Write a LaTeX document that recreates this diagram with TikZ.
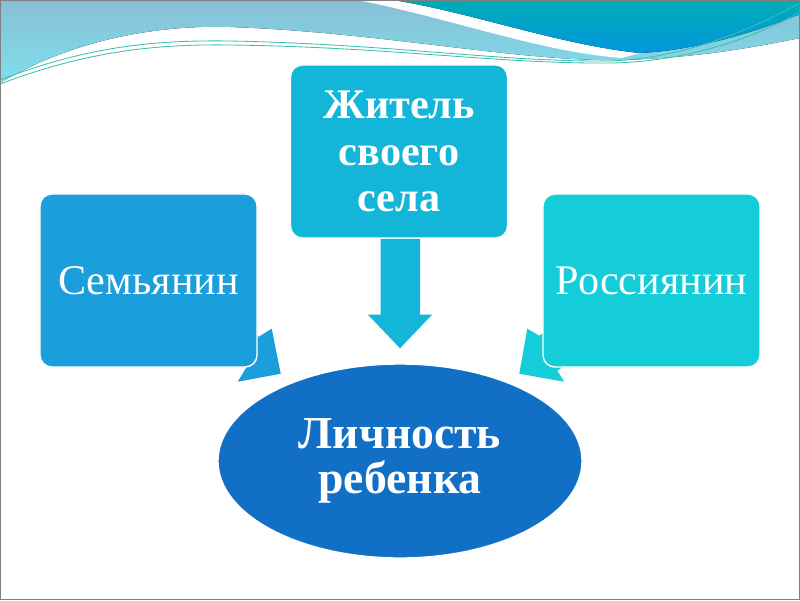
\documentclass[tikz,border=0pt]{standalone}
\usepackage{fontspec}
\setmainfont{Liberation Serif}
\usetikzlibrary{backgrounds,calc,shapes.geometric}
\definecolor{familyfill}{HTML}{1B9FDC}
\definecolor{villagefill}{HTML}{13B5D9}
\definecolor{russiafill}{HTML}{14CDD8}
\definecolor{childfill}{HTML}{1170C6}
\definecolor{sweeptop}{HTML}{88BED6}
\definecolor{sweepbottom}{HTML}{7EE0EC}
\definecolor{wavetop}{HTML}{00ACB6}
\definecolor{wavebottom}{HTML}{0097DD}
\definecolor{threaddraw}{HTML}{3CBFAE}
\definecolor{framedraw}{HTML}{808080}

\begin{document}
\begin{tikzpicture}[
  x=0.025cm, y=-0.025cm,
  role/.style={
    draw=white, line width=1pt, rounded corners=8.5pt,
    minimum width=5.425cm, minimum height=4.325cm,
    align=center, text=white, inner sep=2pt,
    font=\fontsize{30}{33}\selectfont
  },
  roleBold/.style={role, font=\fontsize{30}{33}\selectfont\bfseries},
  core/.style={
    ellipse, draw=white, line width=1pt, fill=childfill,
    minimum width=9.1cm, minimum height=4.85cm, inner sep=0pt,
    align=center, text=white, font=\fontsize{32.5}{32}\selectfont\bfseries
  },
  thread/.style={draw=threaddraw, line width=0.6pt}
]
\useasboundingbox (0,0) rectangle (800,600);

% Slide background with the waves on top.
\begin{scope}[on background layer]
  \fill[white] (0,0) rectangle (800,600);
  \fill[top color=sweeptop, bottom color=sweepbottom]
    (0,0) -- (800,0) -- (800,38)
    .. controls (760,46) and (700,58) .. (620,60)
    .. controls (520,62) and (380,32) .. (230,27)
    .. controls (170,25) and (80,35) .. (0,83) -- cycle;
  \fill[white]
    (357,0) .. controls (450,18) and (540,52) .. (622,58)
    -- (640,53) .. controls (560,45) and (470,12) .. (393,0) -- cycle;
  \fill[top color=wavetop, bottom color=wavebottom]
    (393,0) .. controls (470,12) and (560,45) .. (640,53)
    .. controls (700,50) and (760,30) .. (800,14) -- (800,0) -- cycle;
  \draw[thread] (0,80) .. controls (90,45) and (160,40) .. (230,41)
    .. controls (390,44) and (500,62) .. (610,61)
    .. controls (690,58) and (760,25) .. (800,3);
  \draw[thread] (0,84) .. controls (90,50) and (160,44) .. (230,45)
    .. controls (390,47) and (500,64) .. (610,63)
    .. controls (690,62) and (760,35) .. (800,12);
\end{scope}

% The three roles and the child in the middle.
\node[role, fill=familyfill] (family) at (148.5,280.5) {Семьянин};
\node[roleBold, fill=villagefill] (villager) at (399,151.5)
  {Житель\\своего\\села};
\node[role, fill=russiafill] (russian) at (651.5,280.5) {Россиянин};
\node[core] (child) at (400,461) {Личность\\ребенка};

% Block arrows into the ellipse, kept behind the boxes.
\begin{scope}[on background layer]
  \fill[villagefill]
    ($(villager.south)+(-18.5,0)$) -- ($(villager.south)+(-18.5,76)$)
    -- ($(villager.south)+(-31,76)$) -- ($(child.north)+(0,-15)$)
    -- ($(villager.south)+(33,76)$) -- ($(villager.south)+(21,76)$)
    -- ($(villager.south)+(21,0)$) -- cycle;
  \fill[familyfill]
    ($(family.south east)+(23,6)$) -- ($(family.south east)+(14,-39)$)
    -- ($(family.south east)+(1,-31)$) -- ($(family.south east)+(-51,-69)$)
    -- ($(family.south east)+(-63,-39)$) -- ($(family.south east)+(-11,-1)$)
    -- ($(family.south east)+(-20,14)$) -- cycle;
  \fill[russiafill]
    ($(russian.south west)+(-23,6)$) -- ($(russian.south west)+(-15,-39)$)
    -- ($(russian.south west)+(-3,-32)$) -- ($(russian.south west)+(50,-69)$)
    -- ($(russian.south west)+(68,-34)$) -- ($(russian.south west)+(15,3)$)
    -- ($(russian.south west)+(22,14)$) -- cycle;
\end{scope}

% Slide frame.
\draw[framedraw, line width=1pt] (0.6,0.6) rectangle (799.4,599.4);

\end{tikzpicture}
\end{document}
